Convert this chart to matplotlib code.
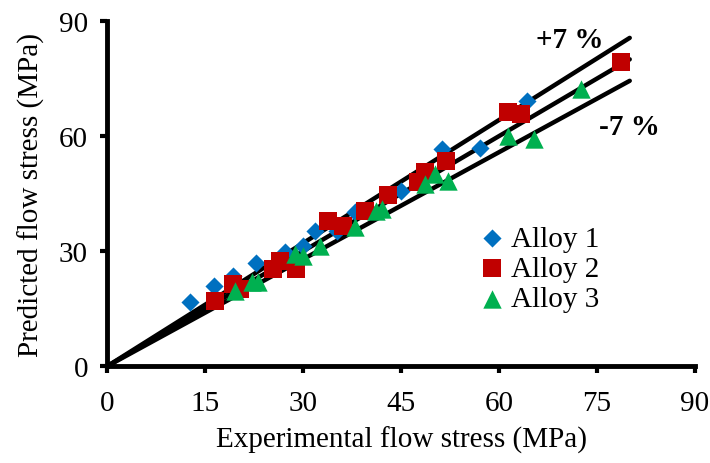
import numpy as np
import matplotlib
matplotlib.use("Agg")
import matplotlib.pyplot as plt

# values (MPa)
alloy1_exp = [12.6, 16.3, 19.3, 22.8, 27.2, 30.0, 31.8, 35.1, 37.9, 45.0, 51.2, 57.0, 64.2]
alloy1_pred = [16.6, 21.0, 23.6, 26.8, 29.7, 31.4, 35.3, 35.3, 40.1, 45.7, 56.6, 57.0, 69.2]

alloy2_exp = [16.5, 19.3, 20.3, 25.4, 26.4, 28.9, 33.8, 36.1, 39.4, 43.0, 47.6, 48.6, 51.9, 61.4, 63.4, 78.6]
alloy2_pred = [17.0, 21.4, 20.2, 25.3, 27.5, 25.3, 37.9, 36.6, 40.5, 44.6, 47.9, 50.5, 53.6, 66.2, 65.7, 79.4]

alloy3_exp = [19.5, 22.1, 23.1, 28.7, 30.0, 32.5, 37.9, 41.2, 42.0, 48.6, 50.2, 52.2, 61.4, 65.4, 72.6]
alloy3_pred = [19.6, 21.8, 22.0, 29.2, 28.8, 31.4, 36.2, 40.5, 41.0, 47.5, 50.1, 48.3, 60.1, 59.2, 72.3]

band = 0.07
line_end = 80
ticks = [0, 15, 30, 45, 60, 75, 90]
y_ticks = [0, 30, 60, 90]

plt.rcParams['font.family'] = ['Liberation Serif', 'DejaVu Serif']

fig = plt.figure(figsize=(7.10, 4.64), dpi=100)
ax = fig.add_axes([0.1514, 0.209, 0.8275, 0.7436])

# reference lines: y = x and +/- 7 %
xl = np.array([0, line_end])
for f in (1 + band, 1.0, 1 - band):
    ax.plot(xl, f * xl, color='black', lw=3.2, solid_capstyle='round', zorder=1)

ax.scatter(alloy1_exp, alloy1_pred, marker='D', s=85, color='#0070C0', lw=0, label='Alloy 1', zorder=3)
ax.scatter(alloy2_exp, alloy2_pred, marker='s', s=170, color='#C00000', lw=0, label='Alloy 2', zorder=4)
ax.scatter(alloy3_exp, alloy3_pred, marker='^', s=175, color='#00B050', lw=0, label='Alloy 3', zorder=5)

ax.text(70.8, 85.3, '+7 %', fontsize=21, fontweight='bold', ha='center', va='center')
ax.text(80.0, 62.6, '-7 %', fontsize=21, fontweight='bold', ha='center', va='center')

ax.set_xlim(0, 90)
ax.set_ylim(0, 90)
ax.set_xticks(ticks)
ax.set_yticks(y_ticks)
ax.tick_params(axis='x', direction='out', length=5, width=3, labelsize=21, pad=12)
ax.tick_params(axis='y', direction='out', length=5, width=3, labelsize=21, pad=9)
for side in ('top', 'right'):
    ax.spines[side].set_visible(False)
for side in ('left', 'bottom'):
    ax.spines[side].set_linewidth(3.5)
ax.set_xlabel('Experimental flow stress (MPa)', fontsize=21, labelpad=7)
ax.set_ylabel('Predicted flow stress (MPa)', fontsize=21, labelpad=10)

ax.legend(loc='upper left', bbox_to_anchor=(0.597, 0.45), frameon=False, fontsize=21,
          handletextpad=0.0, labelspacing=0.13, borderpad=0, handlelength=1.3,
          markerscale=1.0)

fig.savefig('out.png', dpi=100)
